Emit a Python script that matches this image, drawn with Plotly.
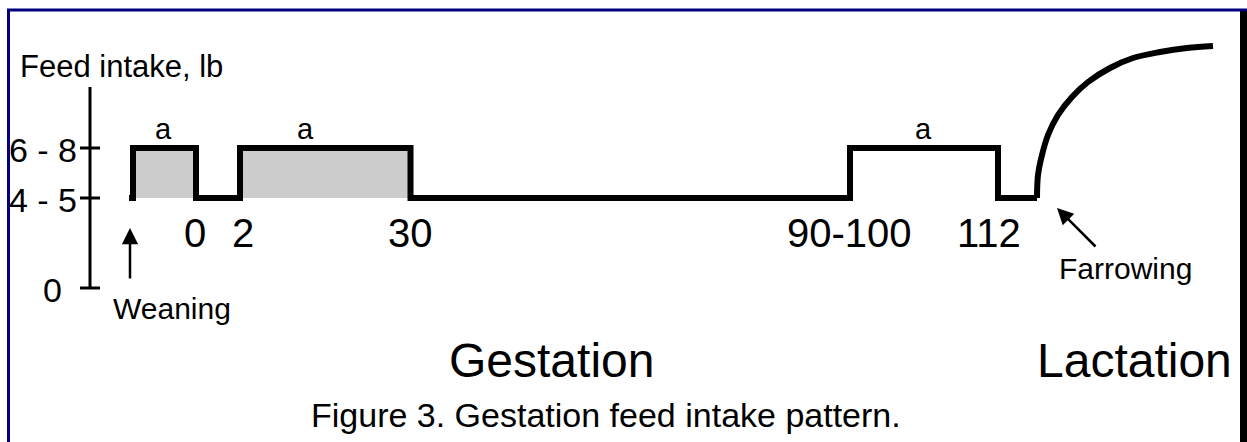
import plotly.graph_objects as go

# ---------------- data (schematic units; timeline is not to scale) ----------------
y_tick_vals = [0, 4.5, 7]
y_tick_text = ["0", "4 - 5", "6 - 8"]
y_tick_label_right = [6.4, 7.9, 7.9]
y_axis_top = 10.05
axis_x = 9.0

line_start_x = 12.9
phase_edges = [13.3, 19.6, 24.0, 41.05, 85.0, 99.8, 103.7]
phase_levels = [7, 4.5, 7, 4.5, 7, 4.5]
filled_phases = [0, 2]
labeled_phases_x = [16.3, 30.5, 92.3]
a_label_y = 7.95
base_level = 4.5

x_tick_pos = [19.5, 24.3, 41.0, 84.9, 98.9]
x_tick_text = ["0", "2", "30", "90-100", "112"]
x_tick_y = 2.75

lact_x = [103.7, 103.8, 104.2, 104.8, 105.8, 107.2, 108.8, 111.0, 113.3, 116.0, 118.7, 121.3]
lact_y = [4.5, 5.65, 6.65, 7.65, 8.65, 9.55, 10.3, 11.0, 11.5, 11.8, 12.0, 12.1]

period_text = ["Gestation", "Lactation"]
period_x = [55.1, 113.4]
period_y = -3.6

weaning_x, weaning_tail_y, weaning_head_y = 13.0, 0.4, 3.0
weaning_text_x, weaning_text_y = 17.2, -1.0
farrow_head = (105.7, 4.0)
farrow_tail = (109.7, 2.0)
farrow_text = (112.5, 1.0)

caption = "Figure 3. Gestation feed intake pattern."
caption_x, caption_y = 60.6, -6.35
ylabel_text = "Feed intake, lb"
ylabel_x, ylabel_y = 1.8, 11.1

FONT = "Liberation Sans, Arial, sans-serif"

fig = go.Figure()

# gray filled phases
for i in filled_phases:
    x0, x1 = phase_edges[i], phase_edges[i + 1]
    lv = phase_levels[i]
    fig.add_trace(go.Scatter(x=[x0, x1, x1, x0, x0], y=[base_level, base_level, lv, lv, base_level],
                             mode="lines", fill="toself", fillcolor="#cccccc",
                             line=dict(width=0), hoverinfo="skip", showlegend=False))

# step path
px, py = [line_start_x, phase_edges[0]], [base_level, base_level]
for i, lv in enumerate(phase_levels):
    px += [phase_edges[i], phase_edges[i + 1]]
    py += [lv, lv]
fig.add_trace(go.Scatter(x=px, y=py, mode="lines", line=dict(color="black", width=6),
                         hoverinfo="skip", showlegend=False))

# lactation curve
fig.add_trace(go.Scatter(x=lact_x, y=lact_y, mode="lines",
                         line=dict(color="black", width=6, shape="spline", smoothing=1.0),
                         hoverinfo="skip", showlegend=False))

# y axis line and ticks
fig.add_trace(go.Scatter(x=[axis_x, axis_x], y=[0, y_axis_top], mode="lines",
                         line=dict(color="black", width=3), hoverinfo="skip", showlegend=False))
tx, ty = [], []
for v in y_tick_vals:
    tx += [axis_x - 1.0, axis_x + 1.0, None]
    ty += [v, v, None]
fig.add_trace(go.Scatter(x=tx, y=ty, mode="lines", line=dict(color="black", width=3),
                         hoverinfo="skip", showlegend=False))

ann = []
for v, t, xr in zip(y_tick_vals, y_tick_text, y_tick_label_right):
    ann.append(dict(x=xr, y=v, text=t, showarrow=False, xanchor="right", yanchor="middle",
                    yshift=-2, font=dict(size=34, family=FONT, color="black")))
for x in labeled_phases_x:
    ann.append(dict(x=x, y=a_label_y, text="a", showarrow=False, xanchor="center", yanchor="middle",
                    font=dict(size=29, family=FONT, color="black")))
for x, t in zip(x_tick_pos, x_tick_text):
    ann.append(dict(x=x, y=x_tick_y, text=t, showarrow=False, xanchor="center", yanchor="middle",
                    font=dict(size=40, family=FONT, color="black")))
for x, t in zip(period_x, period_text):
    ann.append(dict(x=x, y=period_y, text=t, showarrow=False, xanchor="center", yanchor="middle",
                    font=dict(size=48, family=FONT, color="black")))
ann.append(dict(x=ylabel_x, y=ylabel_y, text=ylabel_text, showarrow=False, xanchor="left",
                yanchor="middle", font=dict(size=31, family=FONT, color="black")))
ann.append(dict(x=weaning_text_x, y=weaning_text_y, text="Weaning", showarrow=False, xanchor="center",
                yanchor="middle", font=dict(size=30, family=FONT, color="black")))
ann.append(dict(x=farrow_text[0], y=farrow_text[1], text="Farrowing", showarrow=False, xanchor="center",
                yanchor="middle", font=dict(size=30, family=FONT, color="black")))
ann.append(dict(x=caption_x, y=caption_y, text=caption, showarrow=False, xanchor="center",
                yanchor="middle", font=dict(size=34, family=FONT, color="black")))
# arrows
ann.append(dict(x=weaning_x, y=weaning_head_y, ax=weaning_x, ay=weaning_tail_y, axref="x", ayref="y",
                text="", showarrow=True, arrowhead=2, arrowsize=1.3, arrowwidth=2.5, arrowcolor="black"))
ann.append(dict(x=farrow_head[0], y=farrow_head[1], ax=farrow_tail[0], ay=farrow_tail[1], axref="x",
                ayref="y", text="", showarrow=True, arrowhead=2, arrowsize=1.3, arrowwidth=2.5,
                arrowcolor="black"))

shapes = [
    dict(type="line", xref="paper", yref="paper", x0=7 / 1247, x1=1, y0=1 - 10 / 442, y1=1 - 10 / 442,
         line=dict(color="#000080", width=3)),
    dict(type="line", xref="paper", yref="paper", x0=8.5 / 1247, x1=8.5 / 1247, y0=0, y1=1 - 9 / 442,
         line=dict(color="#000080", width=3)),
    dict(type="rect", xref="paper", yref="paper", x0=1240 / 1247, x1=1, y0=0, y1=1 - 11 / 442,
         fillcolor="black", line=dict(width=0)),
]

fig.update_layout(
    width=1247, height=442, margin=dict(l=0, r=0, t=0, b=0),
    paper_bgcolor="white", plot_bgcolor="white",
    xaxis=dict(range=[0, 124.7], visible=False, fixedrange=True),
    yaxis=dict(range=[-7.7, 14.4], visible=False, fixedrange=True),
    annotations=ann, shapes=shapes, showlegend=False,
)

fig.write_html("out.html", config={"displayModeBar": False},
               post_script="document.body.style.margin='0';document.body.style.overflow='hidden';")
